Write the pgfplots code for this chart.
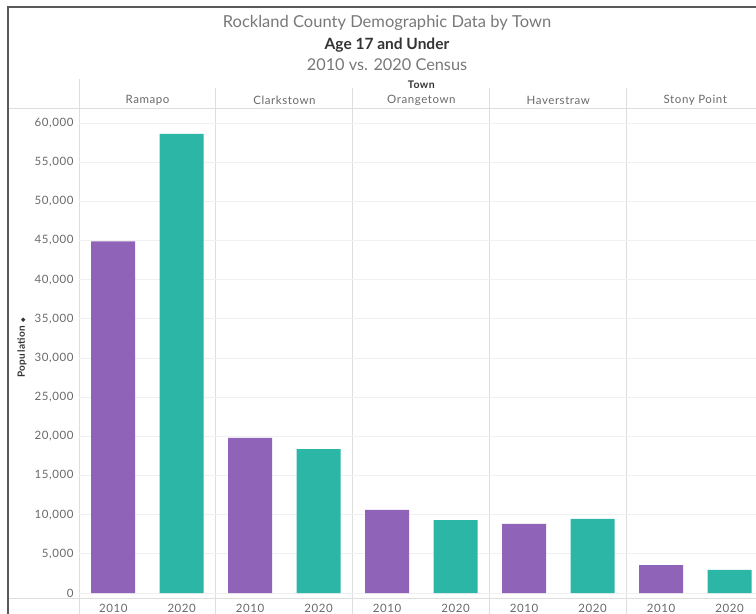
\documentclass[border=0pt]{standalone}
\usepackage{fontspec}
\setmainfont{Lato}
\newfontfamily\tabfont[LetterSpace=5]{Lato}
\newfontfamily\symfont{DejaVu Sans}
\usepackage{pgfplots}
\pgfplotsset{compat=1.18}

\definecolor{c2010}{RGB}{143,99,184}
\definecolor{c2020}{RGB}{44,182,166}
\definecolor{tickgray}{RGB}{105,105,105}
\definecolor{titlegray}{RGB}{120,120,120}
\definecolor{sepgray}{RGB}{222,222,222}
\definecolor{gridgray}{RGB}{240,240,240}

\begin{document}
\begin{tikzpicture}
\path[use as bounding box] (0,0) rectangle (756bp,-614bp);

% titles
\node[text=titlegray, font=\fontsize{16.5bp}{19bp}\selectfont] at (387bp,-23bp) {Rockland County Demographic Data by Town};
\node[text=black!80, font=\fontsize{15.5bp}{18bp}\selectfont\bfseries] at (387bp,-45bp) {Age 17 and Under};
\node[text=titlegray, font=\fontsize{16.3bp}{19bp}\selectfont] at (387bp,-65bp) {2010 vs. 2020 Census};

% header: column title and town names
\node[text=black!80, font=\tabfont\fontsize{10.5bp}{12bp}\selectfont\bfseries] at (421.4bp,-85bp) {Town};
\foreach \xx/\name in {147.5/Ramapo, 284.4/Clarkstown, 421.4/Orangetown, 558.3/Haverstraw, 695.3/Stony Point}
  \node[text=tickgray, font=\tabfont\fontsize{11.5bp}{13bp}\selectfont] at (\xx bp,-100bp) {\name};

% panel separators and header lines
\draw[sepgray, line width=1bp] (79bp,-79bp) -- (79bp,-614bp);
\foreach \xx in {215.9, 352.9, 489.8, 626.8}
  \draw[sepgray, line width=1bp] (\xx bp,-88bp) -- (\xx bp,-614bp);
\draw[sepgray, line width=1bp] (9bp,-108bp) -- (756bp,-108bp);
\draw[sepgray, line width=1bp] (9bp,-598bp) -- (756bp,-598bp);

% y axis title
\node[rotate=90, text=black!80, font=\tabfont\fontsize{10bp}{12bp}\selectfont\bfseries] at (22bp,-348bp) {Population {\symfont\fontsize{6bp}{7bp}\selectfont ◆}};

\begin{axis}[
  at={(79bp,-598bp)}, anchor=south west,
  scale only axis, width=677bp, height=490bp,
  xmin=-0.5, xmax=9.387, ymin=-638, ymax=61915,
  axis line style={draw=none},
  tick style={draw=none},
  ymajorgrids, grid style={gridgray, line width=1bp},
  ytick={0,5000,...,60000},
  yticklabel style={text=tickgray, font=\tabfont\fontsize{11.5bp}{13bp}\selectfont, xshift=-2bp},
  /pgf/number format/.cd, 1000 sep={,}, assume math mode=true,
  /pgfplots/.cd,
  scaled y ticks=false,
  xtick={0,...,9},
  xticklabels={2010,2020,2010,2020,2010,2020,2010,2020,2010,2020},
  xticklabel style={text=tickgray, font=\tabfont\fontsize{11.5bp}{13bp}\selectfont, yshift=-3bp},
  clip=false,
]
\addplot[ybar, bar width=44bp, bar shift=0pt, fill=c2010, draw=none]
  coordinates {(0,44900) (2,19790) (4,10600) (6,8810) (8,3570)};
\addplot[ybar, bar width=44bp, bar shift=0pt, fill=c2020, draw=none]
  coordinates {(1,58600) (3,18380) (5,9320) (7,9450) (9,2940)};
\end{axis}

% outer frame
\draw[line width=2bp, black!65] (8bp,-614bp) -- (8bp,-7bp) -- (756bp,-7bp);
\end{tikzpicture}
\end{document}
